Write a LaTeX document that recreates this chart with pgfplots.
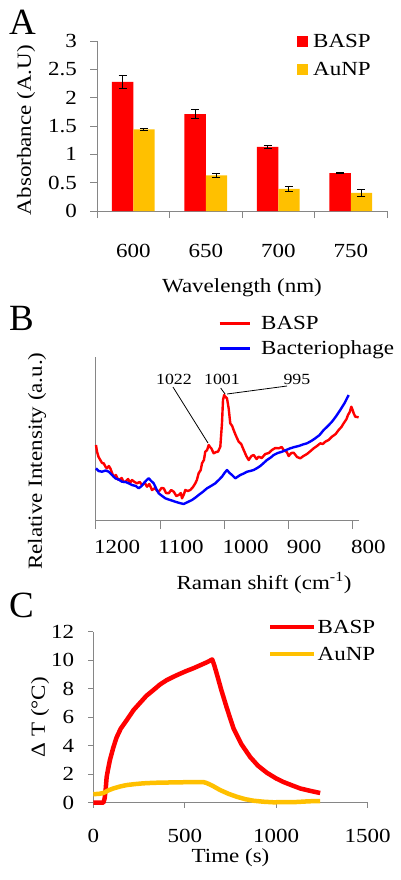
\documentclass[border=0pt]{standalone}
\usepackage{fontspec}
\setmainfont{Liberation Serif}[FakeStretch=1.15]
\newfontfamily\letterfont{Liberation Serif}
\usepackage{pgfplots}
\pgfplotsset{compat=1.18}
\definecolor{bred}{RGB}{255,0,0}
\definecolor{gold}{RGB}{255,192,0}
\definecolor{bblue}{RGB}{0,0,255}
\definecolor{axgray}{RGB}{134,134,134}
\pgfplotsset{
 common/.style={
  scale only axis,
  axis x line=bottom, axis y line=left,
  axis line style={draw=axgray, line width=1pt, -},
  every inner x axis line/.append style={-},
  every inner y axis line/.append style={-},
  every outer x axis line/.append style={-},
  every outer y axis line/.append style={-},
  tick style={draw=axgray, line width=1pt},
  tick align=outside,
  /pgf/number format/assume math mode=true,
  /pgf/number format/1000 sep={},
  legend cell align=left,
 },
 errb/.style={forget plot, draw=none, mark=none,
  error bars/.cd, y dir=both, y explicit, error mark=|,
  error bar style={draw=black, line width=1pt},
  error mark options={draw=black, line width=1pt, mark size=4pt}},
}
\begin{document}
\begin{tikzpicture}[font=\fontsize{20}{24}\selectfont]
\path[use as bounding box] (0,0) rectangle (400pt,-880pt);
\node[anchor=base west, inner sep=0pt, font=\letterfont\fontsize{37}{40}\selectfont] at (9pt,-35pt) {A};
\node[anchor=base west, inner sep=0pt, font=\letterfont\fontsize{37}{40}\selectfont] at (9pt,-330pt) {B};
\node[anchor=base west, inner sep=0pt, font=\letterfont\fontsize{37}{40}\selectfont] at (9pt,-617pt) {C};

% ---------------- Panel A
\begin{axis}[common, at={(97pt,-211pt)}, anchor=south west, width=290pt, height=170pt,
 xmin=-0.5, xmax=3.5, ymin=0, ymax=3,
 xtick={-0.5,0.5,1.5,2.5,3.5}, xticklabels={,,,,},
 extra x ticks={0,1,2,3}, extra x tick labels={600,650,700,750},
 extra x tick style={tick style={draw=none}, xticklabel style={anchor=north, inner sep=0pt, yshift=-26pt}},
 ytick={0,0.5,1,1.5,2,2.5,3},
 yticklabel style={anchor=east, inner sep=0pt, xshift=-13pt},
 major tick length=7pt,
 every axis y label/.style={at={(axis description cs:-0.245,0.476)}, rotate=90, anchor=center},
 ylabel={Absorbance (A.U)},
 every axis x label/.style={at={(axis description cs:0.5,-0.452)}, anchor=center},
 xlabel={Wavelength (nm)},
 legend style={at={(axis description cs:0.6897,1.0388)}, anchor=north west, draw=none, fill=none, inner sep=0pt, row sep=14.8pt, column sep=5pt, nodes={inner sep=0pt, text height=13.2pt, text depth=0pt}},
]
\addplot[ybar, bar width=0.294, bar shift=-0.147, fill=bred, draw=none, legend image code/.code={\fill[bred] (0pt,-5.5pt) rectangle (11pt,5.5pt);}]
 coordinates {(0,2.28) (1,1.71) (2,1.13) (3,0.67)};
\addlegendentry{BASP}
\addplot[ybar, bar width=0.294, bar shift=0.147, fill=gold, draw=none, legend image code/.code={\fill[gold] (0pt,-5.5pt) rectangle (11pt,5.5pt);}]
 coordinates {(0,1.44) (1,0.63) (2,0.39) (3,0.32)};
\addlegendentry{AuNP}
\addplot[errb] coordinates {(-0.147,2.28) +- (0,0.12) (0.853,1.71) +- (0,0.08) (1.853,1.13) +- (0,0.03) (2.853,0.67) +- (0,0.01)};
\addplot[errb] coordinates {(0.147,1.44) +- (0,0.02) (1.147,0.63) +- (0,0.03) (2.147,0.39) +- (0,0.05) (3.147,0.32) +- (0,0.06)};
\end{axis}

% ---------------- Panel B
\begin{axis}[common, at={(96pt,-520pt)}, anchor=south west, width=263.4pt, height=163pt,
 xmin=790, xmax=1200, x dir=reverse, ymin=0, ymax=163,
 xtick={800,900,1000,1100,1200}, ytick=\empty,
 major tick length=9pt,
 xticklabel style={anchor=north west, inner sep=0pt, xshift=-2pt, yshift=-11pt},
 every axis x label/.style={at={(axis description cs:0.638,-0.387)}, anchor=center},
 xlabel={Raman shift (cm\textsuperscript{-1})},
 every axis y label/.style={at={(axis description cs:-0.224,0.362)}, rotate=90, anchor=center},
 ylabel={Relative Intensity (a.u.)},
 legend style={at={(axis description cs:0.4632,1.249)}, anchor=north west, draw=none, fill=none, inner sep=0pt, row sep=11.8pt, column sep=10pt, nodes={inner sep=0pt, text height=13.2pt, text depth=0pt}},
 clip=false,
]
\addplot[bred, line width=2.4pt, line join=round, legend image code/.code={\draw[bred, line width=3pt] (0pt,0pt) -- (30pt,0pt);}]
 coordinates {(1200,75) (1198.4,68.3) (1196,63) (1193.3,60) (1190.5,57) (1188,56.7) (1185,53) (1182.9,51.7) (1180,54) (1177.7,51.7) (1175,47) (1172.5,43.3) (1169,45) (1166,41) (1164.7,40) (1160,42) (1157,38) (1154.3,38.3) (1150,41) (1147,37) (1144,40) (1140,38) (1136.2,36.7) (1132,38) (1128.4,35) (1124,37) (1120.6,33.3) (1117,36) (1112.8,30) (1108,32) (1105,29) (1102.4,28.3) (1098,32) (1094.6,31.7) (1091,27) (1086.8,26.7) (1083,30) (1079,28.3) (1075,24) (1071.3,25) (1068,27) (1066.1,21.7) (1063,26) (1061,30) (1057,29) (1053.2,30) (1049,33) (1045.4,36.7) (1043,40) (1040.2,46.7) (1037,50) (1035,56.7) (1032,60) (1029.9,68.3) (1027,70) (1024.6,75) (1022.5,73) (1020.5,71.7) (1016.9,66.7) (1013,68) (1010.1,68.3) (1006.5,73.3) (1003.9,96.7) (1002.3,120) (1000.5,125) (998.8,123.3) (996.1,121.7) (993.5,111.7) (991,96.7) (988,94) (985.8,90) (982,84) (977.9,78.3) (974,76) (970.1,70) (966,64) (962.4,60) (958,64) (954.6,65) (950,61) (946.8,63.3) (942,62) (936.5,66) (931,67) (926.1,70) (921,72) (915.6,71.7) (911,73) (907.9,70) (903,68) (900.1,64) (896,67) (892.3,67.3) (887,63) (882,61.7) (877,64) (871.6,66) (866,69) (861.2,71.7) (856,74) (850.9,76.7) (847,76) (843.1,78.3) (838,80) (832.7,83.3) (827,86) (822.3,90) (818,93) (814.5,96.7) (810,101) (807.8,105) (805,108) (802.6,113.3) (800.5,110) (798.9,106.7) (796.4,103.3) (791.2,102.7)};
\addlegendentry{BASP}
\addplot[bblue, line width=2.4pt, line join=round, legend image code/.code={\draw[bblue, line width=3pt] (0pt,0pt) -- (30pt,0pt);}]
 coordinates {(1200,51.7) (1196,49) (1190.7,48.3) (1185,49.5) (1180.2,48.3) (1175,45) (1170,41.7) (1165,40.5) (1159.5,38.3) (1154,38) (1149.1,36.7) (1144,35) (1138,34) (1133.5,31.7) (1129,34) (1125.8,36.7) (1121,40) (1118,41.7) (1114,39) (1110.2,36.7) (1106,31) (1102.4,26.7) (1097,24) (1092.1,21.7) (1087,20.5) (1082,19.5) (1076.6,18.3) (1070,17) (1063.6,16) (1057,18) (1050.6,20) (1045,22.5) (1040.2,25) (1034,28) (1027.2,31.7) (1021,34) (1014.3,36.7) (1009,40) (1003.9,43.3) (1000,47) (996.1,50) (992,47) (988.3,45) (983.2,41.7) (979,43.5) (975.4,45) (970,46.5) (964.9,48.3) (960,49) (954.6,50) (949,52) (944.3,54) (939,57) (933.9,60) (928,62.5) (923.4,65) (917,67) (910.5,68.3) (904,70) (897.6,71.7) (891,73) (884.5,74) (878,75.5) (871.6,76.7) (865,79) (858.7,81.7) (852,85) (845.6,90) (839,94) (832.7,98.3) (826,104) (819.8,110) (813,117) (806.7,125)};
\addlegendentry{Bacteriophage}
\node[font=\fontsize{15.5}{18}\selectfont, inner sep=0pt] at (axis cs:1078.6,141) {1022};
\node[font=\fontsize{15.5}{18}\selectfont, inner sep=0pt] at (axis cs:1003.9,141) {1001};
\node[font=\fontsize{15.5}{18}\selectfont, inner sep=0pt] at (axis cs:887.2,141) {995};
\draw[black, line width=0.8pt] (axis cs:1080.2,133) -- (axis cs:1025.7,77);
\draw[black, line width=0.8pt] (axis cs:1006,132) -- (axis cs:999,126);
\draw[black, line width=0.8pt] (axis cs:902.7,134) -- (axis cs:996,126);
\end{axis}

% ---------------- Panel C
\begin{axis}[common, at={(93.3pt,-802.7pt)}, anchor=south west, width=274.4pt, height=171pt,
 xmin=0, xmax=1500, ymin=0, ymax=12,
 xtick={0,500,1000,1500}, ytick={0,2,4,6,8,10,12},
 major tick length=5pt,
 xticklabel style={anchor=north, inner sep=0pt, yshift=-21pt},
 yticklabel style={anchor=east, inner sep=0pt, xshift=-14pt},
 every axis x label/.style={at={(axis description cs:0.5,-0.321)}, anchor=center},
 xlabel={Time (s)},
 every axis y label/.style={at={(axis description cs:-0.194,0.5)}, rotate=90, anchor=center},
 ylabel={Δ T (°C)},
 legend style={at={(axis description cs:0.6367,1.066)}, anchor=north west, draw=none, fill=none, inner sep=0pt, row sep=13.8pt, column sep=1pt, nodes={inner sep=0pt, text height=13.2pt, text depth=0pt}},
 clip=false,
]
\addplot[bred, line width=4.5pt, line join=round, legend image code/.code={\draw[bred, line width=4.5pt] (0pt,0pt) -- (44pt,0pt);}]
 coordinates {(0,0) (30,0) (55,0) (62,0.3) (68,1.0) (73,1.8) (80,2.3) (91,3.0) (110,3.9) (128,4.6) (150,5.2) (183,5.8) (220,6.5) (255,7.0) (290,7.5) (328,7.9) (365,8.3) (401,8.6) (440,8.85) (474,9.05) (510,9.25) (550,9.45) (585,9.65) (620,9.85) (650,10.05) (660,9.7) (676,9.0) (700,7.9) (731,6.6) (767,5.2) (810,4.1) (858,3.2) (900,2.6) (949,2.1) (1000,1.7) (1040,1.45) (1090,1.2) (1131,1.0) (1180,0.85) (1240,0.68)};
\addlegendentry{BASP}
\addplot[gold, line width=4.5pt, line join=round, legend image code/.code={\draw[gold, line width=4.5pt] (0pt,0pt) -- (44pt,0pt);}]
 coordinates {(0,0.6) (30,0.62) (55,0.68) (80,0.85) (109,1.0) (150,1.15) (183,1.24) (230,1.31) (273,1.36) (320,1.39) (365,1.41) (420,1.42) (474,1.43) (530,1.45) (601,1.45) (620,1.38) (650,1.2) (693,0.89) (740,0.62) (784,0.42) (830,0.25) (875,0.14) (930,0.07) (984,0.03) (1050,0.04) (1112,0.05) (1180,0.1) (1240,0.12)};
\addlegendentry{AuNP}
\end{axis}
\end{tikzpicture}
\end{document}
